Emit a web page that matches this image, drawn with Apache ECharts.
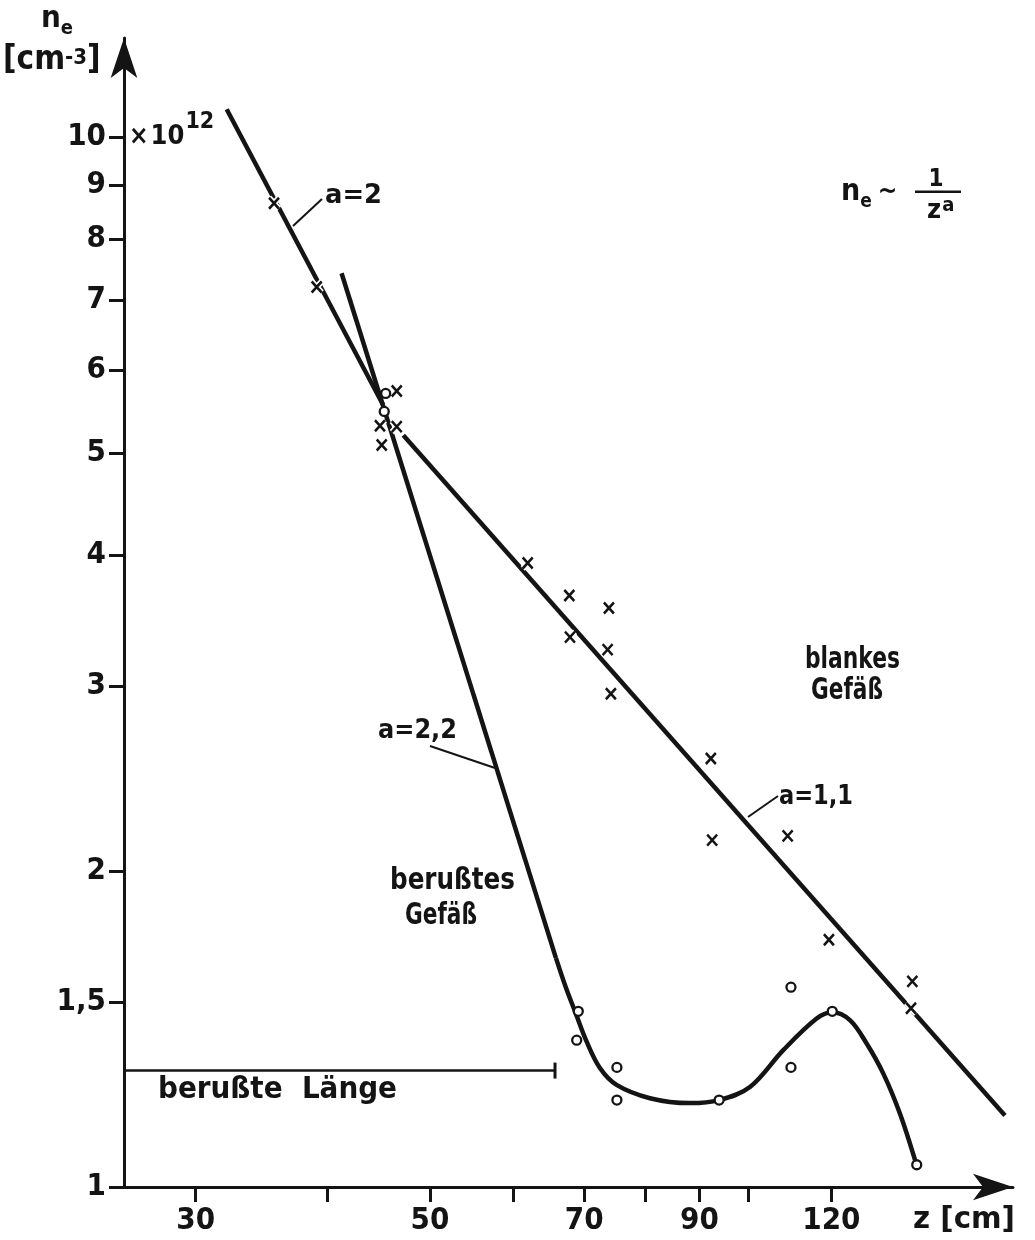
<!DOCTYPE html>
<html><head><meta charset="utf-8">
<script src="https://cdn.jsdelivr.net/npm/echarts@6/dist/echarts.min.js"></script>
<style>html,body{margin:0;padding:0;background:#fff}#c{width:1035px;height:1240px}</style>
</head><body><div id="c"></div>
<script>
// ---- data (z in cm, n_e in 10^12 cm^-3) ----
const crossZ  = [35.59, 39.06, 46.51, 44.84, 46.51, 45.01, 61.88, 67.76, 73.87, 67.86, 73.66, 74.19, 92.26, 92.52, 109.08, 119.35, 143.16, 142.75];
const crossNe = [8.65, 7.20, 5.73, 5.31, 5.30, 5.09, 3.93, 3.66, 3.56, 3.34, 3.25, 2.95, 2.56, 2.14, 2.16, 1.72, 1.57, 1.48];
const circleZ  = [45.40, 45.26, 69.10, 68.86, 75.17, 75.17, 93.94, 109.87, 120.22, 109.87, 144.54];
const circleNe = [5.70, 5.48, 1.47, 1.38, 1.30, 1.21, 1.21, 1.55, 1.47, 1.30, 1.05];
const fitA2Z = [32.10, 45.14],  fitA2Ne = [10.63, 5.56];
const fitA22Z = [41.24, 65.82], fitA22Ne = [7.42, 1.652];
const fitA11Z = [47.18, 175.2], fitA11Ne = [5.20, 1.17];
const sootCurveZ  = [65.82, 67.28, 68.76, 70.27, 72.44, 75.11, 80.79, 88.14, 93.94, 100.47, 108.04, 116.20, 120.22, 124.94, 129.58, 134.35, 139.33, 144.0];
const sootCurveNe = [1.652, 1.547, 1.461, 1.380, 1.298, 1.251, 1.215, 1.202, 1.210, 1.245, 1.350, 1.447, 1.467, 1.442, 1.370, 1.283, 1.175, 1.061];
const sootLenZ = [25.66, 65.68], sootLenNe = 1.291;
const xTickValues = [30, 40, 50, 60, 70, 80, 90, 100, 120];
const xLabelValues = [30, 50, 70, 90, 120];
const yTickValues = [1, 1.5, 2, 3, 4, 5, 6, 7, 8, 9, 10];

const INK = '#141414';
const FONT = "'DejaVu Sans Condensed', 'DejaVu Sans', sans-serif";
const WEIGHT = 'bold';
const pair = (xs, ys) => xs.map((x, i) => [x, Array.isArray(ys) ? ys[i] : ys]);
const fmt = v => { const r = Math.round(v * 10) / 10; return String(r).replace('.', ','); };

const mctx = document.createElement('canvas').getContext('2d');
function tw(t, size) { mctx.font = WEIGHT + ' ' + size + 'px ' + FONT; return mctx.measureText(t).width; }
// text placed by its baseline; optional target width (horizontal squeeze)
function txt(text, x, base, size, width, align) {
  const sx = width ? width / tw(text, size) : 1;
  return {type: 'text', silent: true, z: 50, x: x, y: base - 0.36 * size, scaleX: sx,
    style: {text, x: 0, y: 0, fill: INK, font: WEIGHT + ' ' + size + 'px ' + FONT, align: align || 'left', verticalAlign: 'middle'}};
}
// chain of parts: [text, size, baseline, gapAfter]
function chain(x, parts) {
  const out = [];
  parts.forEach(p => { out.push(txt(p[0], x, p[2], p[1])); x += tw(p[0], p[1]) + (p[3] || 0); });
  return out;
}
function seg(x1, y1, x2, y2, w) {
  return {type: 'line', silent: true, z: 50, shape: {x1, y1, x2, y2}, style: {stroke: INK, lineWidth: w || 2}};
}
const lineS = (data, w) => ({type: 'line', data, symbol: 'none', silent: true, z: 3,
  lineStyle: {color: INK, width: w || 4.5}, itemStyle: {color: INK}});

const chart = echarts.init(document.getElementById('c'), null, {renderer: 'canvas'});
const axisLabel = (vals) => ({show: true, customValues: vals, margin: 18, fontSize: 31, fontWeight: WEIGHT, fontFamily: FONT, color: INK, formatter: fmt});
const CROSS = 'path://M0,0L10,12M10,0L0,12';

chart.setOption({
  animation: false,
  backgroundColor: '#ffffff',
  grid: {left: 124, right: 22, top: 38, bottom: 53, outerBoundsMode: 'none', containLabel: false},
  xAxis: {
    type: 'log', logBase: 10, min: 25.66, max: 178.3,
    axisLine: {show: true, lineStyle: {color: INK, width: 3}, symbol: ['none', 'arrow'], symbolSize: [20, 40]},
    axisTick: {show: true, customValues: xTickValues, length: 15, lineStyle: {color: INK, width: 3}},
    axisLabel: axisLabel(xLabelValues),
    splitLine: {show: false}, minorTick: {show: false}
  },
  yAxis: {
    type: 'log', logBase: 10, min: 1, max: 12.43,
    axisLine: {show: true, lineStyle: {color: INK, width: 3}, symbol: ['none', 'arrow'], symbolSize: [20, 40]},
    axisTick: {show: true, customValues: yTickValues, length: 15, lineStyle: {color: INK, width: 3}},
    axisLabel: axisLabel(yTickValues),
    splitLine: {show: false}, minorTick: {show: false}
  },
  series: [
    lineS(pair(fitA2Z, fitA2Ne)),
    lineS(pair(fitA22Z, fitA22Ne)),
    lineS(pair(fitA11Z, fitA11Ne)),
    Object.assign(lineS(pair(sootCurveZ, sootCurveNe)), {smooth: 0.35}),
    lineS(pair(sootLenZ, sootLenNe), 2.5),
    {type: 'scatter', data: [[sootLenZ[1], sootLenNe]], symbol: 'rect', symbolSize: [3, 16], itemStyle: {color: INK, opacity: 1}, silent: true, z: 4},
    // white halo so the fitted lines are interrupted at the crosses, as in the drawing
    {type: 'scatter', data: pair(crossZ, crossNe), symbol: CROSS, symbolSize: [10, 11],
      itemStyle: {color: 'rgba(0,0,0,0)', borderColor: '#ffffff', borderWidth: 6, opacity: 1}, silent: true, z: 5},
    {type: 'scatter', data: pair(crossZ, crossNe), symbol: CROSS, symbolSize: [10, 11],
      itemStyle: {color: 'rgba(0,0,0,0)', borderColor: INK, borderWidth: 2.6, opacity: 1}, silent: true, z: 6},
    {type: 'scatter', data: pair(circleZ, circleNe), symbol: 'circle', symbolSize: 9,
      itemStyle: {color: '#ffffff', borderColor: INK, borderWidth: 2.3, opacity: 1}, silent: true, z: 7}
  ],
  graphic: [].concat(
    chain(41, [['n', 31, 30], ['e', 20, 36]]),
    chain(3, [['[cm', 33, 72, 0], ['-3', 22, 66, 0], [']', 33, 72]]),
    chain(129, [['×', 26, 147, 2], ['10', 27, 147, 1], ['12', 23, 130]]),
    [txt('z [cm]', 913, 1231, 30, 102)],
    chain(841, [['n', 30, 203], ['e', 19, 209, 6], ['~', 26, 202]]),
    [txt('1', 936, 188, 24, null, 'center'),
     {type: 'rect', silent: true, z: 50, shape: {x: 915, y: 190.5, width: 46, height: 2.5}, style: {fill: INK}}],
    chain(927, [['z', 27, 221, 1], ['a', 20, 213]]),
    [txt('a=2', 325, 206, 27, 57), seg(293, 226, 322, 199),
     txt('a=2,2', 378, 741, 27, 79), seg(430, 746, 495, 768),
     txt('a=1,1', 779, 807, 27, 74), seg(748, 817, 778, 796),
     txt('blankes', 805, 671, 31, 95), txt('Gefäß', 811, 702, 31, 72),
     txt('berußtes', 390, 892, 31, 125), txt('Gefäß', 405, 927, 31, 72),
     txt('berußte  Länge', 158, 1101, 30, 239)]
  )
});
</script></body></html>
